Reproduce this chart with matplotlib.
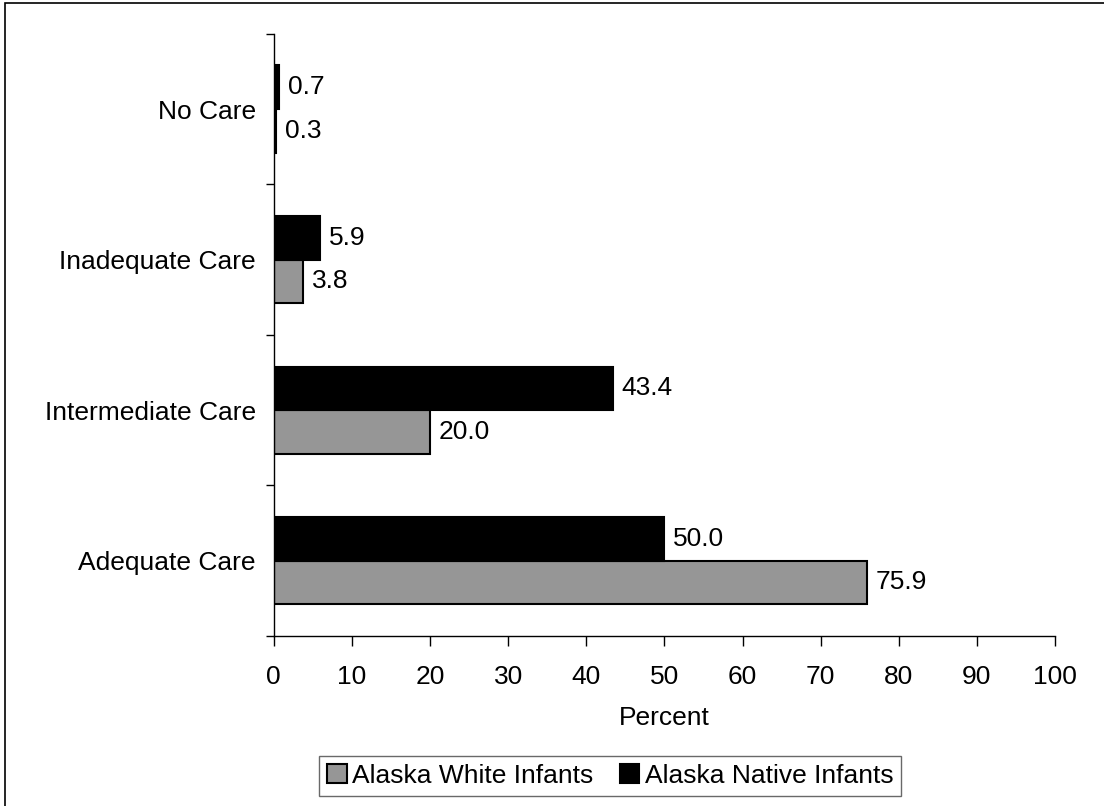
import numpy as np
import matplotlib
matplotlib.use('Agg')
from matplotlib import pyplot as plt
from matplotlib.patches import Rectangle

plt.rcParams['font.family'] = ['Liberation Sans', 'DejaVu Sans']

# Data
categories = ['Adequate Care', 'Intermediate Care', 'Inadequate Care', 'No Care']
white = [75.9, 20.0, 3.8, 0.3]
native = [50.0, 43.4, 5.9, 0.7]

fig = plt.figure(figsize=(11.04, 8.06), dpi=100)
ax = fig.add_axes([0.248, 0.211, 0.9556 - 0.248, 0.958 - 0.211])

y = np.arange(len(categories))
h = 0.29
fs = 19

bw = ax.barh(y - h / 2, white, height=h, color='#969696', edgecolor='black', linewidth=1.5,
             label='Alaska White Infants')
bn = ax.barh(y + h / 2, native, height=h, color='black', edgecolor='black', linewidth=1.5,
             label='Alaska Native Infants')

for bars in (bw, bn):
    for b in bars:
        ax.text(b.get_width() + 1.1, b.get_y() + b.get_height() / 2, f'{b.get_width():.1f}',
                va='center', ha='left', fontsize=fs)

ax.set_xlim(0, 100)
ax.set_ylim(-0.5, len(categories) - 0.5)
ax.set_xticks(np.arange(0, 101, 10))
ax.set_yticks(np.arange(-0.5, len(categories), 1.0))
ax.set_yticklabels([])
ax.set_yticks(y, minor=True)
ax.set_yticklabels(categories, minor=True, fontsize=fs)
ax.tick_params(axis='y', which='major', direction='out', length=6, width=1)
ax.tick_params(axis='y', which='minor', length=0, pad=13)
ax.tick_params(axis='x', direction='out', length=7, width=1, labelsize=fs, pad=14)
ax.set_xlabel('Percent', fontsize=fs, labelpad=12)

for s in ['top', 'right']:
    ax.spines[s].set_visible(False)
for s in ['left', 'bottom']:
    ax.spines[s].set_linewidth(1)

leg = fig.legend(handles=[bw, bn], loc='center', bbox_to_anchor=(610 / 1104, 1 - 776 / 806),
                 ncol=2, fontsize=fs, frameon=True, fancybox=False, handlelength=0.75,
                 handleheight=0.75, handletextpad=0.2, columnspacing=1.0, borderpad=0.3,
                 borderaxespad=0.0)
leg.get_frame().set_edgecolor('#444444')
leg.get_frame().set_linewidth(1)

# Outer chart border
fig.patches.append(Rectangle((5 / 1104, -0.05), 1.2, 1.05 - 3 / 806, transform=fig.transFigure,
                             fill=False, edgecolor='black', linewidth=1.2))

fig.savefig('out.png', dpi=100)
